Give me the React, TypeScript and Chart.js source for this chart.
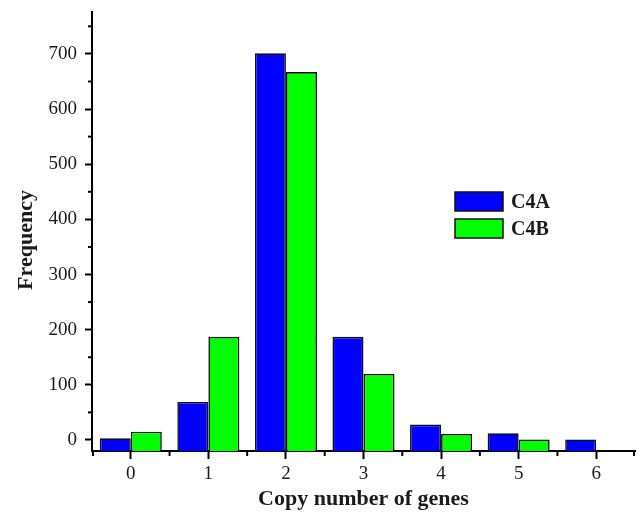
import React, { useEffect, useRef } from "react";
import { Chart, registerables } from "chart.js";

Chart.register(...registerables);

const categories = ["0", "1", "2", "3", "4", "5", "6"];
const c4aValues = [3, 69, 701, 187, 28, 12, 1];
const c4bValues: (number | null)[] = [15, 187, 667, 120, 11, 1, null];
const seriesLabels = ["C4A", "C4B"];
const yMin = -20;
const yMax = 776;
const yMajorTicks = [0, 100, 200, 300, 400, 500, 600, 700];
const yMinorTicks = [50, 150, 250, 350, 450, 550, 650, 750];
const xTitle = "Copy number of genes";
const yTitle = "Frequency";

const FONT = "'Liberation Serif', 'Times New Roman', serif";
const TEXT = "#1a1a1a";

const decorPlugin = {
  id: "decor",
  afterDraw(chart: any) {
    const ctx = chart.ctx;
    const ys = chart.scales.y;
    const xs = chart.scales.x;
    const area = chart.chartArea;
    ctx.save();
    ctx.strokeStyle = "#000";
    ctx.lineWidth = 2;
    // y minor ticks
    for (const v of yMinorTicks) {
      const py = ys.getPixelForValue(v);
      ctx.beginPath();
      ctx.moveTo(area.left - 4, py);
      ctx.lineTo(area.left, py);
      ctx.stroke();
    }
    // x minor ticks at category boundaries
    for (let i = 0; i <= categories.length; i++) {
      let px;
      if (i === 0) px = area.left + 1;
      else if (i === categories.length) px = area.right - 1;
      else px = (xs.getPixelForValue(i - 1) + xs.getPixelForValue(i)) / 2;
      ctx.beginPath();
      ctx.moveTo(px, area.bottom);
      ctx.lineTo(px, area.bottom + 5);
      ctx.stroke();
    }
    // y title
    ctx.fillStyle = TEXT;
    ctx.font = `bold 22px ${FONT}`;
    ctx.textAlign = "center";
    ctx.textBaseline = "middle";
    ctx.translate(26, 240);
    ctx.rotate(-Math.PI / 2);
    ctx.fillText(yTitle, 0, 0);
    ctx.restore();

    // legend
    ctx.save();
    const boxX = 455;
    const boxW = 48;
    const boxH = 19;
    const tops = [192, 219];
    chart.data.datasets.forEach((ds: any, i: number) => {
      const top = tops[i];
      ctx.fillStyle = ds.backgroundColor;
      ctx.fillRect(boxX, top, boxW, boxH);
      ctx.strokeStyle = "#111";
      ctx.lineWidth = 1.5;
      ctx.strokeRect(boxX, top, boxW, boxH);
      ctx.fillStyle = TEXT;
      ctx.font = `bold 20px ${FONT}`;
      ctx.textAlign = "left";
      ctx.textBaseline = "middle";
      ctx.fillText(ds.label, boxX + boxW + 8, top + boxH / 2 + 1);
    });
    ctx.restore();
  },
};

export default function App() {
  const canvasRef = useRef<HTMLCanvasElement | null>(null);

  useEffect(() => {
    if (!canvasRef.current) return;
    const chart = new Chart(canvasRef.current, {
      type: "bar",
      data: {
        labels: categories,
        datasets: [
          {
            label: seriesLabels[0],
            data: c4aValues,
            backgroundColor: "#0000ff",
            borderColor: "#111",
            borderWidth: 1.6,
            base: yMin,
            categoryPercentage: 0.8,
            barPercentage: 1.0,
          } as any,
          {
            label: seriesLabels[1],
            data: c4bValues,
            backgroundColor: "#00ff00",
            borderColor: "#111",
            borderWidth: 1.6,
            base: yMin,
            categoryPercentage: 0.8,
            barPercentage: 1.0,
          } as any,
        ],
      },
      options: {
        animation: false,
        responsive: true,
        maintainAspectRatio: false,
        layout: { padding: { top: 12, right: 4, left: 0, bottom: 0 } },
        plugins: {
          legend: { display: false },
          tooltip: { enabled: false },
        },
        scales: {
          x: {
            type: "category",
            offset: true,
            grid: {
              display: true,
              drawOnChartArea: false,
              drawTicks: true,
              offset: false,
              tickLength: 8,
              tickWidth: 2,
              tickColor: "#000",
            },
            border: { display: true, color: "#000", width: 2 },
            ticks: {
              color: TEXT,
              font: { family: FONT, size: 19 },
              padding: 4,
              maxRotation: 0,
            },
            title: {
              display: true,
              text: xTitle,
              color: TEXT,
              font: { family: FONT, size: 22, weight: "bold" },
              padding: { top: 0, bottom: 2 },
            },
            afterFit(scale: any) {
              scale.height = 64;
              scale.paddingLeft = 0;
              scale.paddingRight = 0;
            },
          },
          y: {
            type: "linear",
            min: yMin,
            max: yMax,
            grid: {
              display: true,
              drawOnChartArea: false,
              drawTicks: true,
              tickLength: 7,
              tickWidth: 2,
              tickColor: "#000",
            },
            border: { display: true, color: "#000", width: 2 },
            ticks: {
              color: TEXT,
              font: { family: FONT, size: 19 },
              padding: 8,
            },
            afterBuildTicks(scale: any) {
              scale.ticks = yMajorTicks.map((v) => ({ value: v }));
            },
            afterFit(scale: any) {
              scale.width = 92;
              scale.paddingTop = 0;
              scale.paddingBottom = 0;
            },
          },
        },
      },
      plugins: [decorPlugin],
    });
    return () => chart.destroy();
  }, []);

  return (
    <div style={{ position: "fixed", left: 0, top: 0, width: 639, height: 515, background: "#fff" }}>
      <canvas ref={canvasRef} />
    </div>
  );
}
